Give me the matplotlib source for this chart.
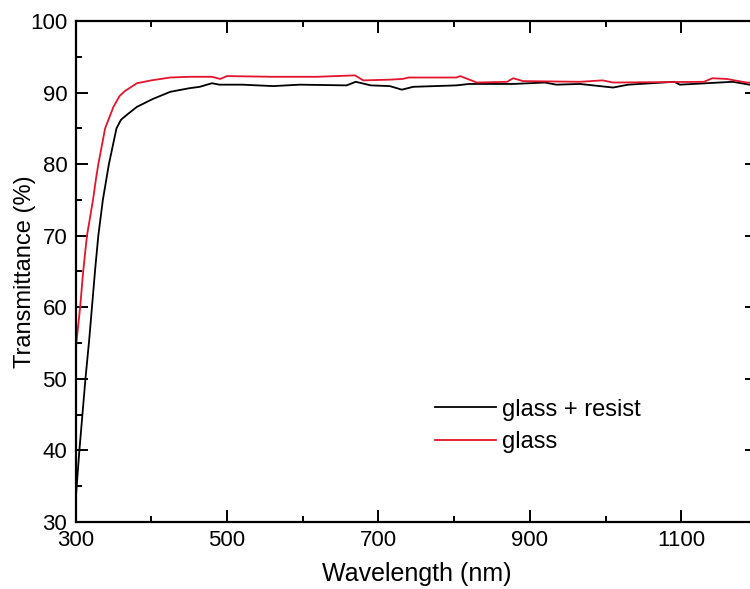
import matplotlib.pyplot as plt
from matplotlib.ticker import MultipleLocator

# glass + resist (black)
wl_resist = [300, 305, 309, 313, 318, 322, 326, 330, 336, 344, 354, 360, 369, 381,
             402, 425, 450, 464, 480, 490, 520, 561, 596, 658, 670, 690, 715,
             731, 746, 803, 820, 878, 920, 935, 966, 1010, 1030, 1091, 1098,
             1168, 1190, 1200]
t_resist = [33, 40, 45, 50, 55.5, 60.5, 65.5, 70, 75, 80, 85, 86.2, 87, 88,
            89.1, 90.1, 90.6, 90.8, 91.3, 91.1, 91.1, 90.9, 91.1, 91.0, 91.5, 91.0, 90.9,
            90.4, 90.8, 91.0, 91.2, 91.2, 91.4, 91.1, 91.2, 90.7, 91.1, 91.5, 91.1,
            91.5, 91.1, 90.9]

# glass (red)
wl_glass = [300, 303, 306, 310, 315, 323, 327, 330, 339, 350, 358, 365, 381,
            400, 425, 450, 480, 491, 500, 560, 619, 669, 680, 715, 732, 740,
            803, 808, 830, 870, 878, 891, 966, 996, 1010, 1130, 1141, 1160,
            1186, 1200]
t_glass = [54, 57, 60, 65, 70, 75, 78, 80, 85, 88, 89.5, 90.2, 91.3,
           91.7, 92.1, 92.2, 92.2, 91.9, 92.3, 92.2, 92.2, 92.4, 91.7, 91.8, 91.9, 92.1,
           92.1, 92.3, 91.4, 91.5, 92.0, 91.6, 91.5, 91.7, 91.4, 91.5, 92.0, 91.9,
           91.4, 91.3]

plt.rcParams['font.family'] = ['Liberation Sans', 'DejaVu Sans']

fig = plt.figure(figsize=(7.5, 5.89), dpi=100)
ax = fig.add_axes([0.1008, 0.1138, 0.9085, 0.8506])

ax.plot(wl_resist, t_resist, color='black', lw=1.3, label='glass + resist')
ax.plot(wl_glass, t_glass, color='#e3142c', lw=1.3, label='glass')

ax.set_xlim(300, 1200)
ax.set_ylim(30, 100)
ax.xaxis.set_major_locator(MultipleLocator(200, offset=100))
ax.xaxis.set_minor_locator(MultipleLocator(100))
ax.yaxis.set_major_locator(MultipleLocator(10))
ax.yaxis.set_minor_locator(MultipleLocator(5))
ax.tick_params(which='both', direction='in', top=True, right=True,
               width=1.4, labelsize=16, pad=6)
ax.tick_params(which='major', length=8.5)
ax.tick_params(which='minor', length=4.5)
for s in ax.spines.values():
    s.set_linewidth(1.6)

ax.set_xlabel('Wavelength (nm)', fontsize=18)
ax.set_ylabel('Transmittance (%)', fontsize=17)
ax.xaxis.set_label_coords(0.5, -0.08)
ax.yaxis.set_label_coords(-0.058, 0.5)

ax.legend(loc='upper left', bbox_to_anchor=(0.527, 0.246), frameon=False,
          fontsize=17, handlelength=2.6, handletextpad=0.25,
          labelspacing=0.43, borderaxespad=0, borderpad=0)

fig.savefig('out.png', dpi=100)
